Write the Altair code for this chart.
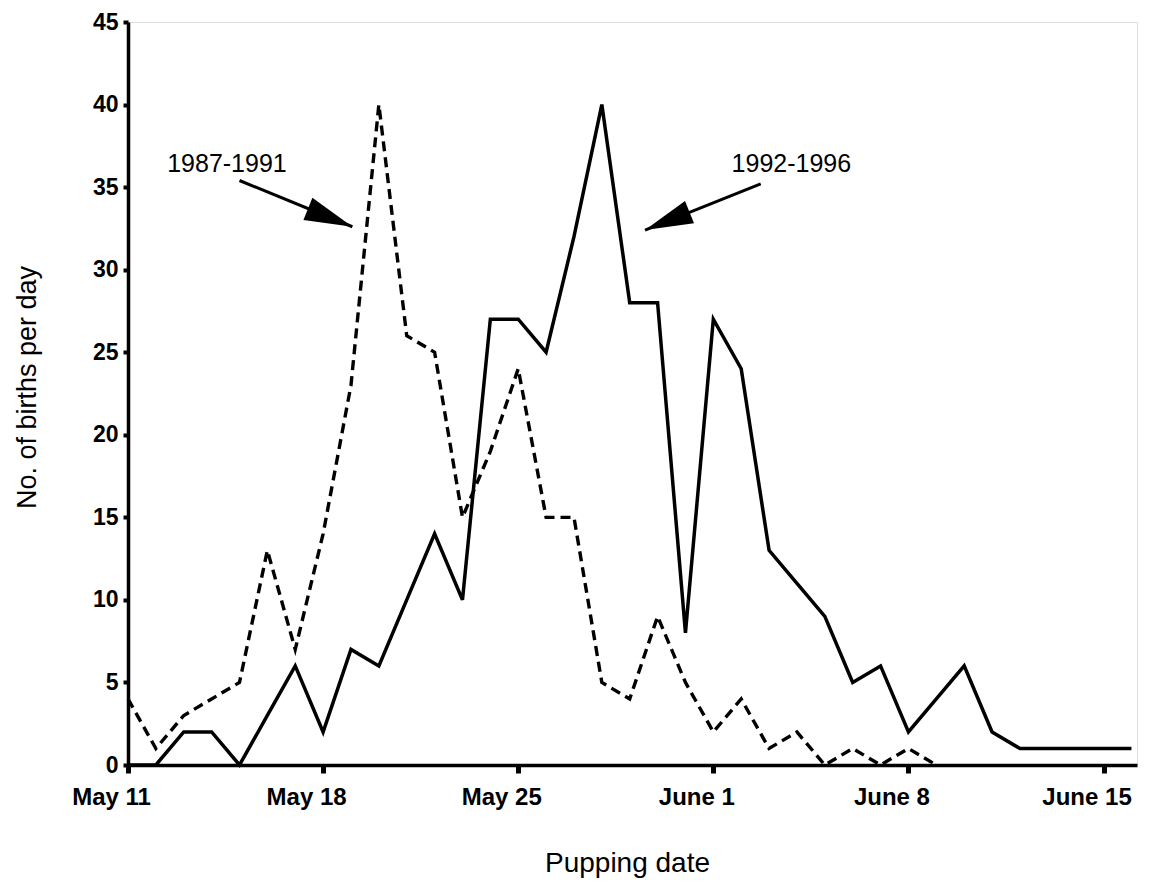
import altair as alt
import pandas as pd

# Days after May 11 (0 = May 11)
days_8791 = list(range(0, 30))
births_8791 = [4, 1, 3, 4, 5, 13, 7, 14, 23, 40, 26, 25, 15, 19, 24, 15, 15, 5, 4, 9,
               5, 2, 4, 1, 2, 0, 1, 0, 1, 0]

days_9296 = list(range(0, 37))
births_9296 = [0, 0, 2, 2, 0, 3, 6, 2, 7, 6, 10, 14, 10, 27, 27, 25, 32, 40, 28, 28,
               8, 27, 24, 13, 11, 9, 5, 6, 2, 4, 6, 2, 1, 1, 1, 1, 1]

tick_days = [0, 7, 14, 21, 28, 35]
tick_labels = ["May 11", "May 18", "May 25", "June 1", "June 8", "June 15"]
y_ticks = [0, 5, 10, 15, 20, 25, 30, 35, 40, 45]

# annotations (in data units: day, births)
ann_labels = ["1987-1991", "1992-1996"]
ann_text_day = [3.55, 23.8]
ann_text_val = [36.4, 36.4]
ann_start_day = [4.0, 22.7]
ann_start_val = [35.4, 35.2]
ann_tip_day = [8.05, 18.55]
ann_tip_val = [32.6, 32.4]
ann_angle = [112, 248]

FONT = "Liberation Sans"

df_a = pd.DataFrame({"day": days_8791, "births": births_8791})
df_b = pd.DataFrame({"day": days_9296, "births": births_9296})
df_ann = pd.DataFrame({
    "label": ann_labels, "tx": ann_text_day, "ty": ann_text_val,
    "x0": ann_start_day, "y0": ann_start_val,
    "x1": ann_tip_day, "y1": ann_tip_val, "angle": ann_angle,
})

label_expr = "{" + ",".join(f"'{d}':'{l}'" for d, l in zip(tick_days, tick_labels)) + "}[datum.value]"

x_scale = alt.Scale(domain=[0, 36.2], nice=False, zero=False)
y_scale = alt.Scale(domain=[0, 45], nice=False)

x_axis = alt.Axis(
    values=tick_days, labelExpr=label_expr, title="Pupping date",
    grid=False, domainColor="black", domainWidth=3.5, tickColor="black",
    tickSize=8, tickWidth=5, labelFont=FONT, labelFontSize=24, labelFontWeight="bold",
    labelColor="black", labelPadding=12, labelOffset=-17, labelFlush=False,
    titleFont=FONT, titleFontSize=28, titleFontWeight="normal", titleColor="black",
    titleX=499, titleY=98, titleBaseline="middle",
)
y_axis = alt.Axis(
    values=y_ticks, title="No. of births per day", grid=False,
    domainColor="black", domainWidth=3.5, tickColor="black", tickSize=5, tickWidth=4,
    labelFont=FONT, labelFontSize=23, labelFontWeight="bold", labelColor="black",
    labelPadding=5, labelFlush=False,
    titleFont=FONT, titleFontSize=27, titleFontWeight="normal", titleColor="black",
    titleX=-101, titleY=365, titleBaseline="middle", titleAngle=-90,
)

line_a = alt.Chart(df_a).mark_line(color="black", strokeWidth=3.4, strokeDash=[10, 6]).encode(
    x=alt.X("day:Q", scale=x_scale, axis=x_axis),
    y=alt.Y("births:Q", scale=y_scale, axis=y_axis),
)
line_b = alt.Chart(df_b).mark_line(color="black", strokeWidth=3.5).encode(
    x=alt.X("day:Q", scale=x_scale),
    y=alt.Y("births:Q", scale=y_scale),
)

shafts = alt.Chart(df_ann).mark_rule(color="black", strokeWidth=3).encode(
    x="x0:Q", y="y0:Q", x2="x1:Q", y2="y1:Q",
)
heads = alt.Chart(df_ann).mark_point(
    shape="M0,0L-0.5,2L0.5,2Z", filled=True, color="black", opacity=1, size=2300,
).encode(
    x="x1:Q", y="y1:Q", angle=alt.Angle("angle:Q", scale=None),
)
texts = alt.Chart(df_ann).mark_text(
    font=FONT, fontSize=25, color="black", align="center", baseline="middle",
).encode(x="tx:Q", y="ty:Q", text="label:N")

chart = alt.layer(line_a, line_b, shafts, heads, texts).properties(
    width=1009, height=743,
    autosize=alt.AutoSizeParams(type="none"),
    padding={"left": 120, "top": 14, "right": 12, "bottom": 114},
).configure_view(
    stroke="black", strokeWidth=2.5,
).configure(background="white")

chart.save("out.html", embed_options={"renderer": "svg", "actions": False})
